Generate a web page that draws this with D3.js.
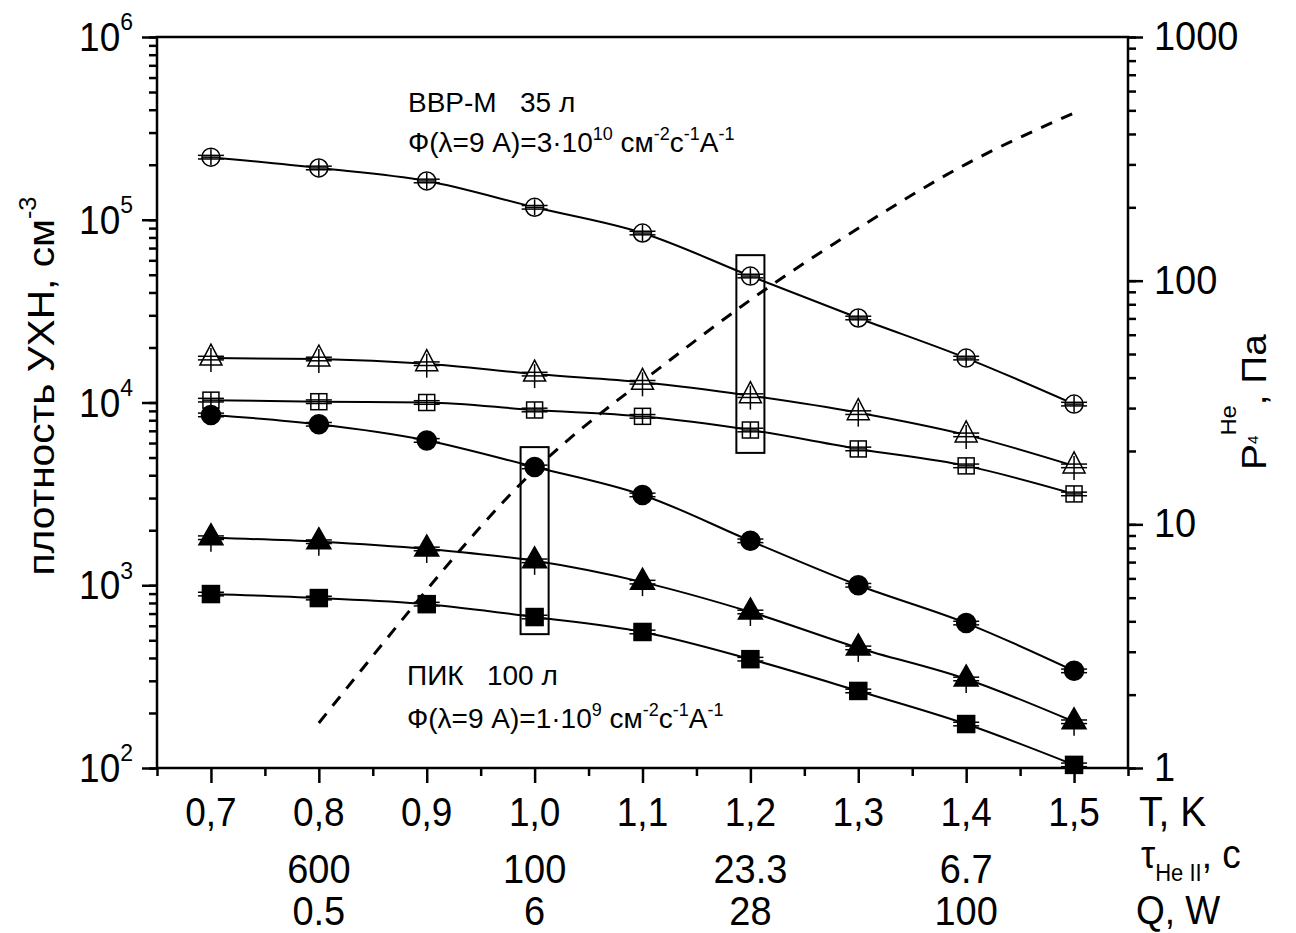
<!DOCTYPE html>
<html lang="ru">
<head>
<meta charset="UTF-8">
<title>плотность УХН</title>
<script src="https://d3js.org/d3.v7.min.js"></script>
<style>
  body { margin: 0; background: #fff; }
  svg { display: block; font-family: "Liberation Sans", Arial, sans-serif; }
  text { white-space: pre; fill: #000; }
</style>
</head>
<body>
<svg width="1296" height="933"></svg>
<script>
// temperatures, K
const temps = [0.7, 0.8, 0.9, 1.0, 1.1, 1.2, 1.3, 1.4, 1.5];

// UCN density, cm^-3 (VVR-M, open markers)
const vvrCircle   = [2.2e5, 1.92e5, 1.63e5, 1.17e5, 8.46e4, 4.92e4, 2.9e4, 1.75e4, 9.8e3];
const vvrTriangle = [1.75e4, 1.73e4, 1.63e4, 1.43e4, 1.29e4, 1.09e4, 8.8e3, 6.65e3, 4.5e3];
const vvrSquare   = [1.03e4, 1.01e4, 1.0e4, 9.1e3, 8.4e3, 7.07e3, 5.57e3, 4.5e3, 3.16e3];

// UCN density, cm^-3 (PIK, filled markers)
const pikCircle   = [8550, 7600, 6200, 4440, 3120, 1750, 1000, 621, 340];
const pikTriangle = [1820, 1730, 1580, 1360, 1040, 714, 454, 307, 179];
const pikSquare   = [895, 851, 788, 670, 555, 394, 264, 174, 104];

// 4He vapour pressure, Pa (right axis)
const pressureT = [0.8, 0.9, 1.0, 1.1, 1.2, 1.3, 1.4, 1.5];
const pressure  = [1.53, 5.38, 16.7, 38.7, 83.3, 164, 301, 488];

// extra rows under the T axis
const extraT    = [0.8, 1.0, 1.2, 1.4];
const tauLabels = ["600", "100", "23.3", "6.7"];
const qLabels   = ["0.5", "6", "28", "100"];

// highlight boxes
const boxT  = [1.0, 1.2];
const boxLo = [540, 5300];
const boxHi = [5700, 64000];

const x0 = 157, x1 = 1128, y0 = 37, y1 = 768;

const x  = d3.scaleLinear().domain([0.65, 1.55]).range([x0, x1]);
const yL = d3.scaleLog().domain([1e2, 1e6]).range([y1, y0]);
const yR = d3.scaleLog().domain([1, 1000]).range([y1, y0]);

const svg = d3.select("svg");

// text with sub/superscripts; parts = [text, size, baseline offset]
function rich(x, y, parts, size, anchor, extra, sy) {
  const t = svg.append("text")
    .attr("transform", `translate(${x},${y}) scale(1,${sy || 1.08})${extra || ""}`)
    .attr("font-size", size)
    .attr("text-anchor", anchor || "start");
  let shift = 0;
  parts.forEach(p => {
    const s = p[0], fs = p[1] || size, off = p[2] || 0;
    t.append("tspan").attr("font-size", fs).attr("dy", off - shift).text(s);
    shift = off;
  });
  return t;
}

// axes
function styleAxis(g) {
  g.select(".domain").remove();
  g.selectAll("line").attr("stroke", "#000").attr("stroke-width", 2.5);
}
const majorL = [1e2, 1e3, 1e4, 1e5, 1e6];
const majorR = [1, 10, 100, 1000];
const minorX = d3.range(0.65, 1.56, 0.1);

svg.append("g").attr("transform", `translate(${x0},0)`)
  .call(d3.axisLeft(yL).tickValues(yL.ticks()).tickSize(8).tickFormat("")).call(styleAxis);
svg.append("g").attr("transform", `translate(${x0},0)`)
  .call(d3.axisLeft(yL).tickValues(majorL).tickSize(15).tickFormat("")).call(styleAxis);
svg.append("g").attr("transform", `translate(${x1},0)`)
  .call(d3.axisRight(yR).tickValues(yR.ticks()).tickSize(8).tickFormat("")).call(styleAxis);
svg.append("g").attr("transform", `translate(${x1},0)`)
  .call(d3.axisRight(yR).tickValues(majorR).tickSize(15).tickFormat("")).call(styleAxis);
svg.append("g").attr("transform", `translate(0,${y1})`)
  .call(d3.axisBottom(x).tickValues(minorX).tickSize(8).tickFormat("")).call(styleAxis);
svg.append("g").attr("transform", `translate(0,${y1})`)
  .call(d3.axisBottom(x).tickValues(temps).tickSize(15).tickFormat("")).call(styleAxis);

svg.append("rect").attr("x", x0).attr("y", y0).attr("width", x1 - x0).attr("height", y1 - y0)
  .attr("fill", "none").attr("stroke", "#000").attr("stroke-width", 2.5);

// tick labels
majorL.forEach(v => {
  rich(133, yL(v) + 14, [["10", 37], [String(Math.round(Math.log10(v))), 23, -19]], 37, "end");
});
majorR.forEach(v => rich(1154, yR(v) + 13, [[String(v)]], 38));
temps.forEach(t => rich(x(t), 826, [[t.toFixed(1).replace(".", ",")]], 37, "middle"));
extraT.forEach((t, i) => {
  rich(x(t), 883, [[tauLabels[i]]], 38, "middle");
  rich(x(t), 925, [[qLabels[i]]], 38, "middle");
});
rich(1139, 826, [["T, K"]], 39);
rich(1141, 868, [["τ", 36], ["He II", 22, 12], [", c", 37, 0]], 37);
rich(1136, 924, [["Q, W"]], 37);

// axis titles
rich(54, 386, [["плотность УХН, см", 37], ["-3", 23, -18]], 37, "middle", " rotate(-90)", 1.1);
rich(1266, 402, [["P", 36], ["4", 14, -8], ["He", 22, -30], [", Па", 36, 0]], 36, "middle", " rotate(-90)");

// annotations
rich(408, 112, [["ВВР-М   35 л"]], 28, "start", "", 1);
rich(408, 152, [["Ф(λ=9 А)=3·10", 28], ["10", 18, -12], [" см", 28, 0], ["-2", 18, -12], ["с", 28, 0],
  ["-1", 18, -12], ["А", 28, 0], ["-1", 18, -12]], 28, "start", "", 1);
rich(407, 685, [["ПИК   100 л"]], 28, "start", "", 1);
rich(407, 728, [["Ф(λ=9 А)=1·10", 28], ["9", 18, -12], [" см", 28, 0], ["-2", 18, -12], ["с", 28, 0],
  ["-1", 18, -12], ["А", 28, 0], ["-1", 18, -12]], 28, "start", "", 1);

// pressure curve
const pLine = d3.line().x((d, i) => x(pressureT[i])).y(d => yR(d)).curve(d3.curveNatural);
svg.append("path").attr("d", pLine(pressure)).attr("fill", "none")
  .attr("stroke", "#000").attr("stroke-width", 3).attr("stroke-dasharray", "12,10");

// highlight boxes
boxT.forEach((t, i) => {
  svg.append("rect")
    .attr("x", x(t - 0.013)).attr("y", yL(boxHi[i]))
    .attr("width", x(t + 0.013) - x(t - 0.013)).attr("height", yL(boxLo[i]) - yL(boxHi[i]))
    .attr("fill", "none").attr("stroke", "#000").attr("stroke-width", 2);
});

// series
const series = [
  { values: vvrCircle, shape: "circle", filled: false },
  { values: vvrTriangle, shape: "triangle", filled: false },
  { values: vvrSquare, shape: "square", filled: false },
  { values: pikCircle, shape: "circle", filled: true },
  { values: pikTriangle, shape: "triangle", filled: true },
  { values: pikSquare, shape: "square", filled: true }
];

const line = d3.line().x((d, i) => x(temps[i])).y(d => yL(d)).curve(d3.curveMonotoneX);

function errBar(g, shape) {
  const top = shape === "triangle" ? -10 : -8;
  const bot = shape === "triangle" ? 14 : 8;
  g.append("line").attr("x1", -13).attr("x2", 13).attr("y1", -1.8).attr("y2", -1.8);
  g.append("line").attr("x1", -13).attr("x2", 13).attr("y1", 1.8).attr("y2", 1.8);
  g.append("line").attr("x1", 0).attr("x2", 0).attr("y1", top).attr("y2", bot);
  g.selectAll("line").attr("stroke", "#000").attr("stroke-width", 1.5);
}

function marker(g, shape, filled) {
  let m;
  if (shape === "circle") {
    m = g.append("circle").attr("r", filled ? 9.5 : 9);
  } else if (shape === "square") {
    const s = filled ? 17 : 16;
    m = g.append("rect").attr("x", -s / 2).attr("y", -s / 2).attr("width", s).attr("height", s);
  } else {
    const w = filled ? 12 : 11;
    m = g.append("path").attr("d", `M0,-14L${w},7L${-w},7Z`);
  }
  m.attr("fill", filled ? "#000" : "#fff").attr("stroke", "#000").attr("stroke-width", 1.5);
  if (!filled && shape !== "triangle") {
    const h = shape === "circle" ? 9 : 8;
    g.append("line").attr("x1", -h).attr("x2", h).attr("y1", 0).attr("y2", 0)
      .attr("stroke", "#000").attr("stroke-width", 1.5);
  }
}

series.forEach(s => {
  svg.append("path").attr("d", line(s.values)).attr("fill", "none")
    .attr("stroke", "#000").attr("stroke-width", 2);
  const pts = svg.append("g").selectAll("g").data(s.values).join("g")
    .attr("transform", (d, i) => `translate(${x(temps[i])},${yL(d)})`);
  pts.each(function () {
    const g = d3.select(this);
    if (s.filled) { errBar(g, s.shape); marker(g, s.shape, true); }
    else { marker(g, s.shape, false); errBar(g, s.shape); }
  });
});
</script>
</body>
</html>
